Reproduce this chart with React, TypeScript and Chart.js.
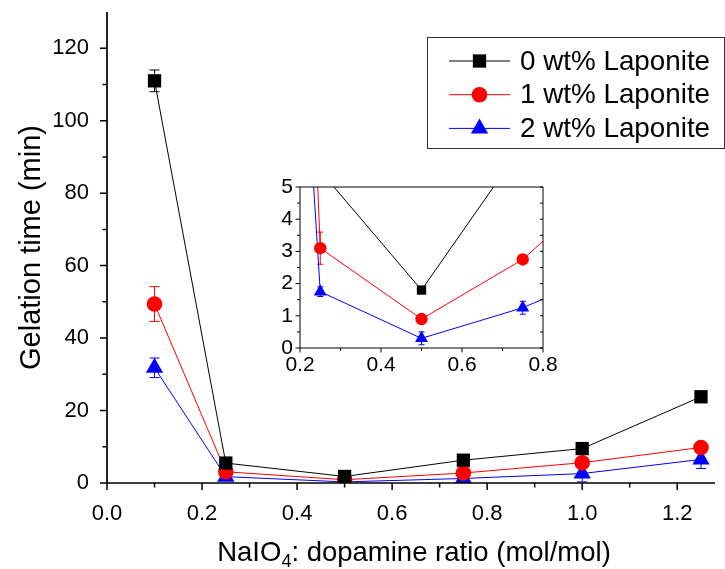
import React, { useEffect, useRef } from 'react';
import { Chart, registerables } from 'chart.js';

Chart.register(...registerables);

const FONT = '"Liberation Sans", Arial, Helvetica, sans-serif';

// ---- data ----
const ratios = [0.1, 0.25, 0.5, 0.75, 1.0, 1.25];
const gel0 = [111.0, 5.5, 1.8, 6.3, 9.5, 23.8];
const gel0Err = [3.0, 0, 0, 0, 0, 0];
const gel1 = [49.4, 3.1, 0.9, 2.75, 5.6, 9.8];
const gel1Err = [4.8, 0.5, 0, 0, 0, 0];
const gel2 = [31.8, 1.75, 0.3, 1.25, 2.6, 6.5];
const gel2Err = [2.7, 0.15, 0.2, 0.2, 2.3, 2.5];

const seriesNames = ['0 wt% Laponite', '1 wt% Laponite', '2 wt% Laponite'];
const seriesColors = ['#000000', '#ff0000', '#0000ff'];
const seriesShapes = ['rect', 'circle', 'triangle'];
const seriesValues = [gel0, gel1, gel2];
const seriesErrors = [gel0Err, gel1Err, gel2Err];

const yTitle = 'Gelation time (min)';
const xTitleParts = ['NaIO', '4', ': dopamine ratio (mol/mol)'];

// ---- helpers ----
function drawMarker(ctx: CanvasRenderingContext2D, shape: string, x: number, y: number, r: number, color: string) {
  ctx.fillStyle = color;
  ctx.beginPath();
  if (shape === 'rect') {
    const s = Math.SQRT1_2 * r;
    ctx.rect(x - s, y - s, 2 * s, 2 * s);
  } else if (shape === 'circle') {
    ctx.arc(x, y, r, 0, Math.PI * 2);
  } else {
    let rad = 0;
    ctx.moveTo(x + Math.sin(rad) * r, y - Math.cos(rad) * r);
    rad += (2 * Math.PI) / 3;
    ctx.lineTo(x + Math.sin(rad) * r, y - Math.cos(rad) * r);
    rad += (2 * Math.PI) / 3;
    ctx.lineTo(x + Math.sin(rad) * r, y - Math.cos(rad) * r);
    ctx.closePath();
  }
  ctx.fill();
}

const framePlugin = {
  id: 'frame',
  afterDraw(chart: any, _args: any, o: any) {
    const { ctx, chartArea: a } = chart;
    const xs = chart.scales.x;
    const ys = chart.scales.y;
    ctx.save();
    ctx.strokeStyle = '#000';
    ctx.lineWidth = o.axisWidth;
    ctx.beginPath();
    if (o.box) {
      ctx.rect(a.left, a.top, a.right - a.left, a.bottom - a.top);
    } else {
      ctx.moveTo(a.left, a.top);
      ctx.lineTo(a.left, a.bottom);
      ctx.lineTo(a.right, a.bottom);
    }
    ctx.stroke();
    ctx.lineWidth = o.tickWidth;
    ctx.beginPath();
    xs.ticks.forEach((t: any) => {
      if (t.value > xs.max + 1e-9) return;
      const px = xs.getPixelForValue(t.value);
      const len = t.label !== '' ? o.majorLen : o.minorLen;
      ctx.moveTo(px, a.bottom);
      ctx.lineTo(px, a.bottom + len);
    });
    ys.ticks.forEach((t: any) => {
      if (o.skipTop && t.value >= ys.max - 1e-9) return;
      const py = ys.getPixelForValue(t.value);
      const len = t.label !== '' ? o.majorLen : o.minorLen;
      ctx.moveTo(a.left, py);
      ctx.lineTo(a.left - len, py);
      if (o.rightInward) {
        ctx.moveTo(a.right, py);
        ctx.lineTo(a.right - o.rightLen, py);
      }
    });
    ctx.stroke();
    ctx.restore();
  },
};

const errorBarPlugin = {
  id: 'errorBars',
  beforeDatasetsDraw(chart: any, _args: any, o: any) {
    const { ctx, chartArea: a } = chart;
    const xs = chart.scales.x;
    const ys = chart.scales.y;
    ctx.save();
    ctx.beginPath();
    ctx.rect(a.left, a.top, a.right - a.left, a.bottom - a.top);
    ctx.clip();
    chart.data.datasets.forEach((ds: any) => {
      const errs = ds.errors;
      if (!errs) return;
      ctx.strokeStyle = ds.borderColor;
      ctx.lineWidth = 1;
      ds.data.forEach((p: any, j: number) => {
        const e = errs[j];
        if (!e) return;
        const px = xs.getPixelForValue(p.x);
        const top = ys.getPixelForValue(p.y + e);
        const bot = ys.getPixelForValue(p.y - e);
        ctx.beginPath();
        ctx.moveTo(px, top);
        ctx.lineTo(px, bot);
        ctx.moveTo(px - o.cap, top);
        ctx.lineTo(px + o.cap, top);
        ctx.moveTo(px - o.cap, bot);
        ctx.lineTo(px + o.cap, bot);
        ctx.stroke();
      });
    });
    ctx.restore();
  },
};

const legendPlugin = {
  id: 'boxLegend',
  afterDraw(chart: any, _args: any, o: any) {
    const { ctx } = chart;
    ctx.save();
    ctx.strokeStyle = '#333';
    ctx.lineWidth = 1;
    ctx.strokeRect(o.left + 0.5, o.top + 0.5, o.width, o.height);
    chart.data.datasets.forEach((ds: any, i: number) => {
      const y = o.firstRow + i * o.rowGap;
      ctx.strokeStyle = ds.borderColor;
      ctx.lineWidth = 1;
      ctx.beginPath();
      ctx.moveTo(o.lineStart, y);
      ctx.lineTo(o.lineEnd, y);
      ctx.stroke();
      drawMarker(ctx, ds.pointStyle, (o.lineStart + o.lineEnd) / 2, y, ds.pointRadius, ds.backgroundColor);
      ctx.fillStyle = '#000';
      ctx.font = `${o.fontSize}px ${FONT}`;
      ctx.textAlign = 'left';
      ctx.textBaseline = 'middle';
      ctx.fillText(ds.label, o.textX, y + 1);
    });
    ctx.restore();
  },
};

const titlePlugin = {
  id: 'axisTitles',
  afterDraw(chart: any, _args: any, o: any) {
    const { ctx, chartArea: a } = chart;
    ctx.save();
    ctx.fillStyle = '#000';
    ctx.textBaseline = 'alphabetic';
    ctx.textAlign = 'left';
    const big = `${o.size}px ${FONT}`;
    const small = `${o.subSize}px ${FONT}`;
    ctx.font = big;
    const w1 = ctx.measureText(xTitleParts[0]).width;
    const w3 = ctx.measureText(xTitleParts[2]).width;
    ctx.font = small;
    const w2 = ctx.measureText(xTitleParts[1]).width;
    let x = (a.left + a.right) / 2 + o.xShift - (w1 + w2 + w3) / 2;
    ctx.font = big;
    ctx.fillText(xTitleParts[0], x, o.xBaseline);
    x += w1;
    ctx.font = small;
    ctx.fillText(xTitleParts[1], x, o.xBaseline + o.subShift);
    x += w2;
    ctx.font = big;
    ctx.fillText(xTitleParts[2], x, o.xBaseline);
    ctx.font = `${o.ySize}px ${FONT}`;
    ctx.translate(o.yBaselineX, (a.top + a.bottom) / 2);
    ctx.rotate(-Math.PI / 2);
    ctx.textAlign = 'center';
    ctx.fillText(yTitle, 0, 0);
    ctx.restore();
  },
};

function makeDatasets(radii: number[]) {
  return seriesNames.map((name, i) => ({
    label: name,
    data: ratios.map((r, j) => ({ x: r, y: seriesValues[i][j] })),
    errors: seriesErrors[i],
    borderColor: seriesColors[i],
    backgroundColor: seriesColors[i],
    borderWidth: 1,
    pointStyle: seriesShapes[i],
    pointRadius: radii[i],
    pointBorderWidth: 0,
    pointBackgroundColor: seriesColors[i],
    tension: 0,
  }));
}

export default function App() {
  const mainRef = useRef<HTMLCanvasElement | null>(null);
  const insetRef = useRef<HTMLCanvasElement | null>(null);

  useEffect(() => {
    const tickFont = { family: FONT, size: 22 };
    const main = new Chart(mainRef.current as HTMLCanvasElement, {
      type: 'line',
      data: { datasets: makeDatasets([9.4, 7.8, 10]) as any },
      options: {
        animation: false,
        responsive: false,
        devicePixelRatio: 1,
        layout: { padding: { top: 12, right: 0, left: 0, bottom: 0 } },
        plugins: {
          legend: { display: false },
          tooltip: { enabled: false },
          frame: { axisWidth: 1.7, tickWidth: 1.5, majorLen: 7, minorLen: 4.5, skipTop: true },
          errorBars: { cap: 5 },
          boxLegend: { left: 427, top: 37, width: 297, height: 111, firstRow: 61, rowGap: 33.7, lineStart: 449, lineEnd: 510, textX: 520, fontSize: 27.8 },
          axisTitles: { size: 27.5, ySize: 29, subSize: 18, subShift: 6, xBaseline: 561, xShift: 3, yBaselineX: 40 },
        } as any,
        scales: {
          x: {
            type: 'linear',
            min: 0,
            max: 1.2795,
            afterFit: (s: any) => { s.height = 86; s.paddingLeft = 0; s.paddingRight = 0; },
            grid: { display: false, drawTicks: false },
            border: { display: false },
            ticks: {
              stepSize: 0.1,
              includeBounds: false,
              autoSkip: false,
              maxRotation: 0,
              padding: 18,
              color: '#000',
              font: tickFont,
              callback: (v: any) => (Math.round(Number(v) * 10) % 2 === 0 ? Number(v).toFixed(1) : ''),
            },
          },
          y: {
            type: 'linear',
            min: 0,
            max: 130,
            afterFit: (s: any) => { s.width = 107; s.paddingTop = 0; s.paddingBottom = 0; },
            grid: { display: false, drawTicks: false },
            border: { display: false },
            ticks: {
              stepSize: 10,
              autoSkip: false,
              padding: 18,
              color: '#000',
              font: tickFont,
              callback: (v: any) => (Math.round(Number(v)) % 20 === 0 && Number(v) < 130 ? String(Math.round(Number(v))) : ''),
            },
          },
        },
      },
      plugins: [errorBarPlugin, framePlugin, legendPlugin, titlePlugin] as any,
    });

    const insetFont = { family: FONT, size: 21 };
    const inset = new Chart(insetRef.current as HTMLCanvasElement, {
      type: 'line',
      data: { datasets: makeDatasets([6.6, 6.2, 7.5]) as any },
      options: {
        animation: false,
        responsive: false,
        devicePixelRatio: 1,
        layout: { padding: { top: 15, right: 27, left: 0, bottom: 0 } },
        plugins: {
          legend: { display: false },
          tooltip: { enabled: false },
          frame: { axisWidth: 1, tickWidth: 1, majorLen: 4.5, minorLen: 3, box: true, rightInward: true, rightLen: 3 },
          errorBars: { cap: 3 },
        } as any,
        scales: {
          x: {
            type: 'linear',
            min: 0.2,
            max: 0.8,
            afterFit: (s: any) => { s.height = 29; },
            grid: { display: false, drawTicks: false },
            border: { display: false },
            ticks: {
              stepSize: 0.1,
              autoSkip: false,
              maxRotation: 0,
              padding: 5,
              color: '#000',
              font: insetFont,
              callback: (v: any) => (Math.round(Number(v) * 10) % 2 === 0 ? Number(v).toFixed(1) : ''),
            },
          },
          y: {
            type: 'linear',
            min: 0,
            max: 5,
            afterFit: (s: any) => { s.width = 50; s.paddingTop = 0; s.paddingBottom = 0; },
            grid: { display: false, drawTicks: false },
            border: { display: false },
            ticks: {
              stepSize: 0.5,
              autoSkip: false,
              padding: 7,
              color: '#000',
              font: insetFont,
              callback: (v: any) => (Math.abs(Number(v) - Math.round(Number(v))) < 1e-6 ? String(Math.round(Number(v))) : ''),
            },
          },
        },
      },
      plugins: [errorBarPlugin, framePlugin] as any,
    });

    return () => {
      main.destroy();
      inset.destroy();
    };
  }, []);

  return (
    <div style={{ position: 'fixed', left: 0, top: 0, width: 725, height: 569, background: '#fff', overflow: 'hidden' }}>
      <canvas ref={mainRef} width={725} height={569} style={{ position: 'absolute', left: 0, top: 0, width: 725, height: 569 }} />
      <canvas ref={insetRef} width={320} height={205} style={{ position: 'absolute', left: 250, top: 172, width: 320, height: 205 }} />
    </div>
  );
}
